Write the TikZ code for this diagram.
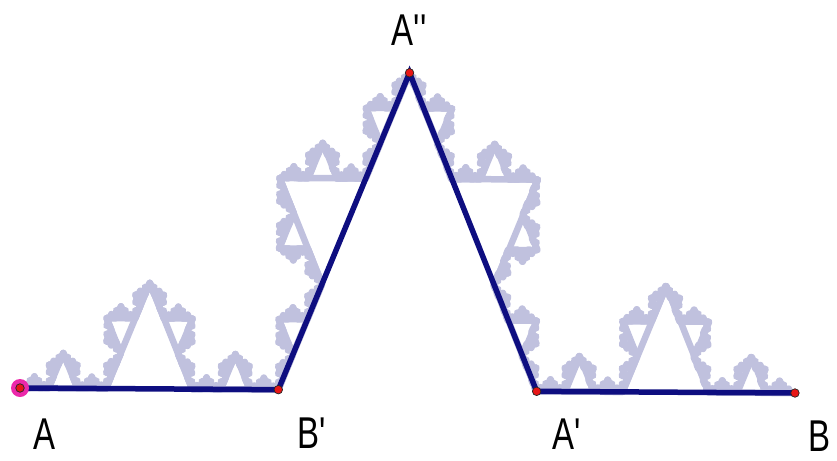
\documentclass[tikz,border=0pt]{standalone}
\usepackage{fontspec}
\setmainfont{Liberation Sans}[Ligatures=TeXOff]
\usetikzlibrary{lindenmayersystems}

\pgfdeclarelindenmayersystem{kochcurve}{
  \rule{F -> F+F--F+F}
}

\definecolor{navyline}{RGB}{14,14,128}
\definecolor{lavender}{RGB}{192,193,222}
\definecolor{pointred}{RGB}{232,22,22}
\definecolor{selpink}{RGB}{236,40,170}

\begin{document}
\begin{tikzpicture}[
  x=1pt, y=-1pt,
  kochline/.style={lavender, line width=6.5pt, line join=round, line cap=round},
  segment/.style={navyline, line width=5.5pt, line join=miter},
  vertex/.style={circle, fill=pointred, draw=black!85, line width=0.7pt, inner sep=0pt, minimum size=8.5pt},
  halo/.style={circle, fill=selpink, inner sep=0pt, minimum size=18pt},
  lbl/.style={font=\fontsize{33}{38}\selectfont, inner sep=0pt, yscale=1.35, transform shape}
]
\useasboundingbox (0,0) rectangle (837,460);

% curve steps 2 to 5 in light colour, stretched like the screenshot
\begin{scope}[shift={(20,388)}, rotate=-0.37, yscale=1.42]
  \coordinate (pA) at (0,0);
  \coordinate (pB1) at (258.33,0);
  \coordinate (pA2) at (387.5,-223.72);
  \coordinate (pA1) at (516.67,0);
  \coordinate (pB) at (775,0);
  \foreach \n/\s in {2/86.111, 3/28.704, 4/9.568, 5/3.189}
    \draw[kochline, l-system={kochcurve, axiom=F, order=\n, step=\s pt, angle=60}]
      (pA) l-system;
\end{scope}

% first step
\draw[segment] (pA) -- (pB1) -- (pA2) -- (pA1) -- (pB);

\node[halo] (hA) at (pA) {};
\node[vertex] (vA) at (pA) {};
\node[vertex] (vB1) at (pB1) {};
\node[vertex] (vA2) at (pA2) {};
\node[vertex] (vA1) at (pA1) {};
\node[vertex] (vB) at (pB) {};

\node[lbl] (lA) at (45,434) {A};
\node[lbl] (lB1) at (312,433) {B'};
\node[lbl] (lA2) at (409,30) {A''};
\node[lbl] (lA1) at (567,434) {A'};
\node[lbl] (lB) at (819,436) {B};
\end{tikzpicture}
\end{document}
